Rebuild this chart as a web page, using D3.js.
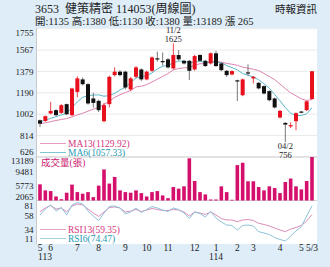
<!DOCTYPE html>
<html>
<head>
<meta charset="utf-8">
<script src="https://cdn.jsdelivr.net/npm/d3@7"></script>
<style>
html, body { margin: 0; padding: 0; background: #deedf8; }
svg { display: block; }
text { font-family: "Liberation Serif", "Noto Sans CJK TC", serif; fill: #222; }
</style>
</head>
<body>
<script>
// weekly candles, 健策 3653 (113/5 .. 114/5)
const opens  = [948, 942, 1008, 1037, 1013, 1090, 993, 1198, 1308, 1266, 1140, 1119, 940, 1090, 1346, 1376, 1376, 1220, 1331, 1396, 1308, 1384, 1494, 1470, 1485, 1405, 1523, 1472, 1472, 1396, 1523, 1472, 1449, 1538, 1449, 1384, 1352, 1300, 1169, 1370, 1317, 1278, 1249, 1205, 1140, 972, 925, 895, 940, 1025, 1037, 1135]
const highs  = [955, 990, 1110, 1045, 1090, 1095, 1235, 1335, 1325, 1275, 1190, 1130, 1100, 1340, 1414, 1390, 1385, 1330, 1425, 1405, 1385, 1510, 1552, 1545, 1495, 1625, 1567, 1480, 1480, 1525, 1530, 1480, 1545, 1560, 1458, 1390, 1388, 1305, 1315, 1440, 1338, 1285, 1255, 1212, 1148, 1038, 930, 930, 1018, 1030, 1122, 1380]
const lows   = [887, 935, 1000, 985, 1005, 995, 985, 1150, 1255, 1085, 1060, 1020, 930, 1061, 1335, 1335, 1220, 1205, 1320, 1295, 1300, 1375, 1465, 1430, 1405, 1395, 1475, 1440, 1302, 1385, 1465, 1418, 1440, 1418, 1380, 1330, 1345, 1117, 1160, 1340, 1273, 1220, 1175, 1115, 1052, 965, 756, 880, 860, 1010, 1030, 1130]
const closes = [918, 984, 1030, 993, 1081, 1001, 1228, 1317, 1266, 1096, 1101, 1037, 1081, 1331, 1376, 1346, 1237, 1317, 1414, 1308, 1376, 1502, 1485, 1470, 1414, 1523, 1485, 1449, 1384, 1514, 1472, 1426, 1538, 1426, 1390, 1346, 1381, 1292, 1308, 1362, 1331, 1229, 1184, 1125, 1061, 1031, 910, 905, 1010, 1018, 1115, 1380]

const ma13 = [917, 926, 936, 946, 955, 963, 978, 995, 1010, 1028, 1046, 1062, 1087, 1119, 1149, 1173, 1192, 1210, 1242, 1248, 1262, 1285, 1310, 1335, 1360, 1392, 1404, 1410, 1413, 1434, 1446, 1447, 1464, 1468, 1460, 1449, 1442, 1433, 1416, 1407, 1398, 1386, 1360, 1334, 1306, 1267, 1227, 1190, 1164, 1136, 1123, 1129.92]
const ma6  = [933, 950, 965, 980, 995, 1010, 1060, 1110, 1150, 1165, 1170, 1172, 1160, 1165, 1185, 1215, 1240, 1280, 1320, 1333, 1340, 1365, 1400, 1425, 1430, 1455, 1470, 1468, 1455, 1460, 1468, 1458, 1462, 1460, 1455, 1430, 1412, 1392, 1360, 1345, 1330, 1305, 1270, 1230, 1175, 1120, 1060, 1010, 990, 990, 1005, 1057.33]

const volumes = [6204, 4652, 4471, 3100, 2400, 4057, 6127, 4212, 3800, 4212, 2927, 5868, 10007, 6385, 8093, 4652, 4212, 4057, 4652, 3954, 3100, 4212, 4471, 3358, 2660, 5506, 5092, 5687, 12853, 7058, 4212, 3617, 2324, 2324, 5687, 4212, 2250, 11119, 11714, 6980, 6980, 5506, 4652, 5687, 5247, 3954, 6799, 7679, 5687, 4910, 7058, 13189]

const rsi13 = [64.4, 70.8, 75, 69, 70.8, 64, 74, 77.6, 75.9, 69, 62.2, 56.2, 64, 71.6, 72.5, 70.8, 64, 65.6, 68.2, 64.8, 67.3, 69.9, 68.2, 66.5, 66.5, 68.2, 67.3, 64, 57.1, 64, 62.2, 59.7, 64, 58.8, 52.8, 50.3, 50.3, 47.4, 50.3, 51.1, 49.4, 44.6, 42.6, 40, 36.6, 33.2, 30.3, 34.9, 37.5, 40.9, 48.6, 59.35]
const rsi6  = [58.8, 69, 75.9, 65.6, 71.6, 58.8, 75.9, 80.1, 77.6, 65.6, 57.1, 49.4, 62.2, 73.3, 74.2, 70.8, 60.5, 64, 70.8, 63.1, 68.2, 73.3, 70.8, 67.3, 64.8, 70.8, 68.2, 62.2, 52.8, 64, 61.4, 55.4, 64.8, 53.7, 46.8, 41.7, 40.9, 33.2, 40.9, 41.7, 40, 30.3, 28.1, 25.5, 20.4, 17, 14.4, 23, 31.5, 38.8, 57.1, 74.47]

const priceTicks = [1755, 1567, 1379, 1190, 1002, 814, 626]
const volTicks = [13189, 9481, 5773, 2065]
const rsiTicks = [81, 58, 34, 11]

const monthLabels = ['5', '6', '7', '8', '9', '10', '11', '12', '1', '2', '3', '4', '5', '5/3']
const monthWeeks = [0, 2, 7, 11, 16, 20, 24, 29, 33, 37, 40, 45, 49, 51]
const yearLabels = ['113', '114']
const yearWeeks = [0, 33]

const colors = {
    up: '#e8101c',
    down: '#111',
    downWick: '#555',
    volume: '#d40f6c',
    ma13: '#de84b2',
    ma6: '#5cb9ca',
    ma13Text: '#d2357e',
    ma6Text: '#1f9bb4',
    rsi13: '#d98fb8',
    rsi6: '#8ec3da',
    grid: '#e4e4e4',
    border: '#c9c9c9'
}

const width = 330
const height = 267
const plot = {left: 36, right: 317, top: 28, bottom: 244}

const svg = d3.select('body').append('svg')
    .attr('width', width)
    .attr('height', height)

const x = d3.scaleLinear().domain([0, closes.length - 1]).range([40, 312])
const yPrice = d3.scaleLinear().domain([626, 1755]).range([156.8, 28.7])
const yVol = d3.scaleLinear().domain([2065, 13189]).range([200.5, 157])
const yRsi = d3.scaleLinear().domain([11, 81]).range([243, 202])

// white plotting area
svg.append('rect')
    .attr('x', plot.left).attr('y', plot.top)
    .attr('width', plot.right - plot.left).attr('height', plot.bottom - plot.top)
    .attr('fill', '#fff')

// price grid
svg.append('g').selectAll('line')
    .data(priceTicks)
    .join('line')
    .attr('x1', plot.left).attr('x2', plot.right)
    .attr('y1', d => yPrice(d)).attr('y2', d => yPrice(d))
    .attr('stroke', colors.grid)
    .attr('stroke-width', 0.8)

// panel separators + left edge
svg.append('g').selectAll('line')
    .data([yVol(13189), yVol(2065)])
    .join('line')
    .attr('x1', plot.left).attr('x2', plot.right)
    .attr('y1', d => d).attr('y2', d => d)
    .attr('stroke', colors.border)
    .attr('stroke-width', 0.8)

svg.append('line')
    .attr('x1', plot.left + 0.5).attr('x2', plot.left + 0.5)
    .attr('y1', plot.top).attr('y2', plot.bottom)
    .attr('stroke', colors.border)

// y labels, kept inside their panel
const yLabels = (ticks, scale, lo, hi) => {
    svg.append('g').selectAll('text')
        .data(ticks)
        .join('text')
        .attr('x', 33.5)
        .attr('y', d => Math.max(lo, Math.min(hi, scale(d))))
        .attr('dy', '0.35em')
        .attr('text-anchor', 'end')
        .attr('font-size', 9)
        .text(d => d)
}
yLabels(priceTicks, yPrice, 33, 151.8)
yLabels(volTicks, yVol, 161, 197)
yLabels(rsiTicks, yRsi, 206, 239)

// moving averages
const maLine = (arr) => d3.line()
    .x((d, i) => x(i))
    .y(d => yPrice(d))(arr)

svg.append('path').attr('d', maLine(ma13)).attr('fill', 'none').attr('stroke', colors.ma13).attr('stroke-width', 1)
svg.append('path').attr('d', maLine(ma6)).attr('fill', 'none').attr('stroke', colors.ma6).attr('stroke-width', 1)

// candles
const candles = closes.map((c, i) => ({i, o: opens[i], h: highs[i], l: lows[i], c}))

svg.append('g').selectAll('line')
    .data(candles)
    .join('line')
    .attr('x1', d => x(d.i)).attr('x2', d => x(d.i))
    .attr('y1', d => yPrice(d.h)).attr('y2', d => yPrice(d.l))
    .attr('stroke', d => d.c > d.o ? colors.up : colors.downWick)
    .attr('stroke-width', 0.8)

svg.append('g').selectAll('rect')
    .data(candles)
    .join('rect')
    .attr('x', d => x(d.i) - 2)
    .attr('width', 4)
    .attr('y', d => yPrice(Math.max(d.o, d.c)))
    .attr('height', d => Math.max(1.2, Math.abs(yPrice(d.o) - yPrice(d.c))))
    .attr('fill', d => d.c > d.o ? colors.up : colors.down)

// high / low notes
const note = (i, lines, y0) => {
    lines.forEach((t, k) => {
        svg.append('text')
            .attr('x', x(i)).attr('y', y0 + k * 8.5)
            .attr('text-anchor', 'middle')
            .attr('font-size', 8.5)
            .text(t)
    })
}
const hiIdx = highs.indexOf(d3.max(highs))
const loIdx = lows.indexOf(d3.min(lows))
note(hiIdx, ['11/2', d3.max(highs)], 33)
note(loIdx, ['04/2', d3.min(lows)], 149)

// legends for MA
const legend = (y, lineColor, textColor, label) => {
    svg.append('line')
        .attr('x1', 40).attr('x2', 66)
        .attr('y1', y).attr('y2', y)
        .attr('stroke', lineColor).attr('stroke-width', 0.8)
    svg.append('text')
        .attr('x', 68).attr('y', y).attr('dy', '0.35em')
        .attr('font-size', 9.5)
        .style('fill', textColor)
        .text(label)
}
legend(143.5, colors.ma13, colors.ma13Text, `MA13(${ma13[ma13.length - 1].toFixed(2)})`)
legend(152.5, colors.ma6, colors.ma6Text, `MA6(${ma6[ma6.length - 1].toFixed(2)})`)

// volume
svg.append('g').selectAll('rect')
    .data(volumes)
    .join('rect')
    .attr('x', (d, i) => x(i) - 1.8)
    .attr('width', 3.6)
    .attr('y', d => yVol(d))
    .attr('height', d => yVol(2065) - yVol(d))
    .attr('fill', colors.volume)

svg.append('text')
    .attr('x', 41).attr('y', 166)
    .attr('font-size', 9.5)
    .style('fill', '#cc1870')
    .text('成交量(張)')

// RSI
const rsiLine = (arr) => d3.line()
    .x((d, i) => x(i))
    .y(d => yRsi(d))(arr)

svg.append('path').attr('d', rsiLine(rsi13)).attr('fill', 'none').attr('stroke', colors.rsi13).attr('stroke-width', 1)
svg.append('path').attr('d', rsiLine(rsi6)).attr('fill', 'none').attr('stroke', colors.rsi6).attr('stroke-width', 1)

legend(229.5, colors.rsi13, colors.ma13Text, `RSI13(${rsi13[rsi13.length - 1]})`)
legend(238.5, colors.rsi6, colors.ma6Text, `RSI6(${rsi6[rsi6.length - 1]})`)

// x labels
svg.append('g').selectAll('text')
    .data(monthLabels)
    .join('text')
    .attr('x', (d, i) => x(monthWeeks[i]))
    .attr('y', 251)
    .attr('text-anchor', 'middle')
    .attr('font-size', 9.5)
    .text(d => d)

svg.append('g').selectAll('text')
    .data(yearLabels)
    .join('text')
    .attr('x', (d, i) => Math.max(45, x(yearWeeks[i])))
    .attr('y', 260)
    .attr('text-anchor', 'middle')
    .attr('font-size', 9.5)
    .text(d => d)

// header
const last = closes.length - 1
svg.append('text')
    .attr('x', 35).attr('y', 13)
    .attr('font-size', 12)
    .style('white-space', 'pre')
    .text('3653  健策精密 114053(周線圖)')

svg.append('text')
    .attr('x', 35).attr('y', 24.5)
    .attr('font-size', 10.5)
    .text(`開:${opens[last]} 高:${highs[last]} 低:${lows[last]} 收:${closes[last]} 量:${volumes[last]} 漲 ${closes[last] - closes[last - 1]}`)

svg.append('text')
    .attr('x', 317).attr('y', 13)
    .attr('text-anchor', 'end')
    .attr('font-size', 10.5)
    .text('時報資訊')
</script>
</body>
</html>
